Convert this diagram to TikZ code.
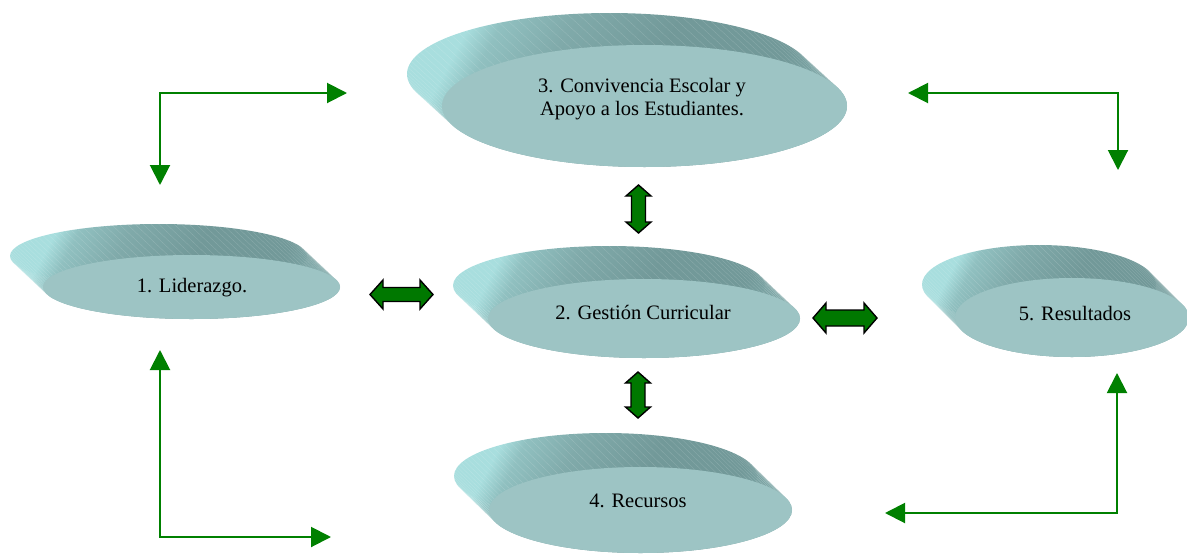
\documentclass[tikz,border=0pt]{standalone}
\usepackage{fontspec}
\setmainfont{Liberation Serif}
\usetikzlibrary{arrows.meta}
\definecolor{frontc}{HTML}{9DC4C4}
\definecolor{sidelight}{HTML}{A8DEDE}
\definecolor{sidelt}{HTML}{90C0C0}
\definecolor{sidemid}{HTML}{80AAAA}
\definecolor{sidedark}{HTML}{729999}
\definecolor{sideend}{HTML}{7EA8A8}
\definecolor{linegreen}{HTML}{008000}
\definecolor{blockgreen}{HTML}{007800}
\pgfdeclarehorizontalshading{sideshading}{100bp}{color(0bp)=(sidelight); color(25bp)=(sidelight); color(29bp)=(sidelt); color(38bp)=(sidemid); color(52bp)=(sidedark); color(68bp)=(sidedark); color(75bp)=(sideend); color(100bp)=(sideend)}
\tikzset{
  sideshade/.style={shading=sideshading, shading angle=-28},
  stripe/.style={white, opacity=0.16, line width=0.4pt},
  frontfill/.style={fill=frontc},
  disctext/.style={inner sep=0pt, font=\fontsize{20.5}{23}\selectfont, text=black},
  elbow/.style={draw=linegreen, line width=2pt, {Triangle[length=20pt,width=20pt]}-{Triangle[length=20pt,width=20pt]}},
  blockarr/.style={fill=blockgreen, draw=black, line width=1.4pt, line join=miter}
}
\newcommand\mydisc[6]{%
  \shade[sideshade] \foreach \k in {0,...,40} { ({#1+#5*\k/40},{#2+#6*\k/40}) ellipse [x radius=#3, y radius=#4] };
  \foreach \t in {0,3,...,357} \draw[stripe] ({#1+#3*cos(\t)},{#2+#4*sin(\t)}) -- ++(#5,#6);
  \fill[frontfill] (#1,#2) ellipse [x radius=#3, y radius=#4];
}
\newcommand\blockarrow[7]{%
  \draw[blockarr, shift={(#1,#2)}, rotate=#3] (-#4,0) -- (-#4+#7,#5) -- (-#4+#7,#6) -- (#4-#7,#6) -- (#4-#7,#5) -- (#4,0) -- (#4-#7,-#5) -- (#4-#7,-#6) -- (-#4+#7,-#6) -- (-#4+#7,-#5) -- cycle;
}
\begin{document}
\begin{tikzpicture}[x=1pt,y=-1pt]
\useasboundingbox (0,0) rectangle (1187,555);
% discs
\mydisc{644.5}{106}{202.5}{61}{-35}{-32}
\mydisc{191.5}{287}{148.5}{32}{-33}{-31}
\mydisc{644}{318.5}{156}{39.5}{-35}{-33}
\mydisc{640.5}{510}{151.5}{43}{-35}{-34}
\mydisc{1072}{317.5}{117}{39.5}{-33}{-33}
% texts
\node[disctext, align=center] (d3) at (642,99) {3. Convivencia Escolar y\\Apoyo a los Estudiantes.};
\node[disctext, anchor=base] (d1) at (192,292) {1. Liderazgo.};
\node[disctext, anchor=base] (d2) at (643,319) {2. Gestión Curricular};
\node[disctext, anchor=base] (d4) at (638,507) {4. Recursos};
\node[disctext, anchor=base] (d5) at (1075,320) {5. Resultados};
% block double arrows
\blockarrow{401.5}{294.5}{0}{31.5}{14.5}{7}{13}
\blockarrow{845}{318}{0}{32}{15}{8}{13}
\blockarrow{638.5}{209}{90}{24}{12.5}{7}{11}
\blockarrow{638}{395}{90}{23}{12.5}{7}{11}
% elbow arrows
\coordinate (tlA) at (160,185);
\coordinate (tlB) at (347,93);
\coordinate (trA) at (908,93);
\coordinate (trB) at (1118,170);
\coordinate (blA) at (160,350);
\coordinate (blB) at (331,537);
\coordinate (brA) at (885,513);
\coordinate (brB) at (1117,373);
\draw[elbow] (tlA) |- (tlB);
\draw[elbow] (trA) -| (trB);
\draw[elbow] (blA) |- (blB);
\draw[elbow] (brA) -| (brB);
\end{tikzpicture}
\end{document}
